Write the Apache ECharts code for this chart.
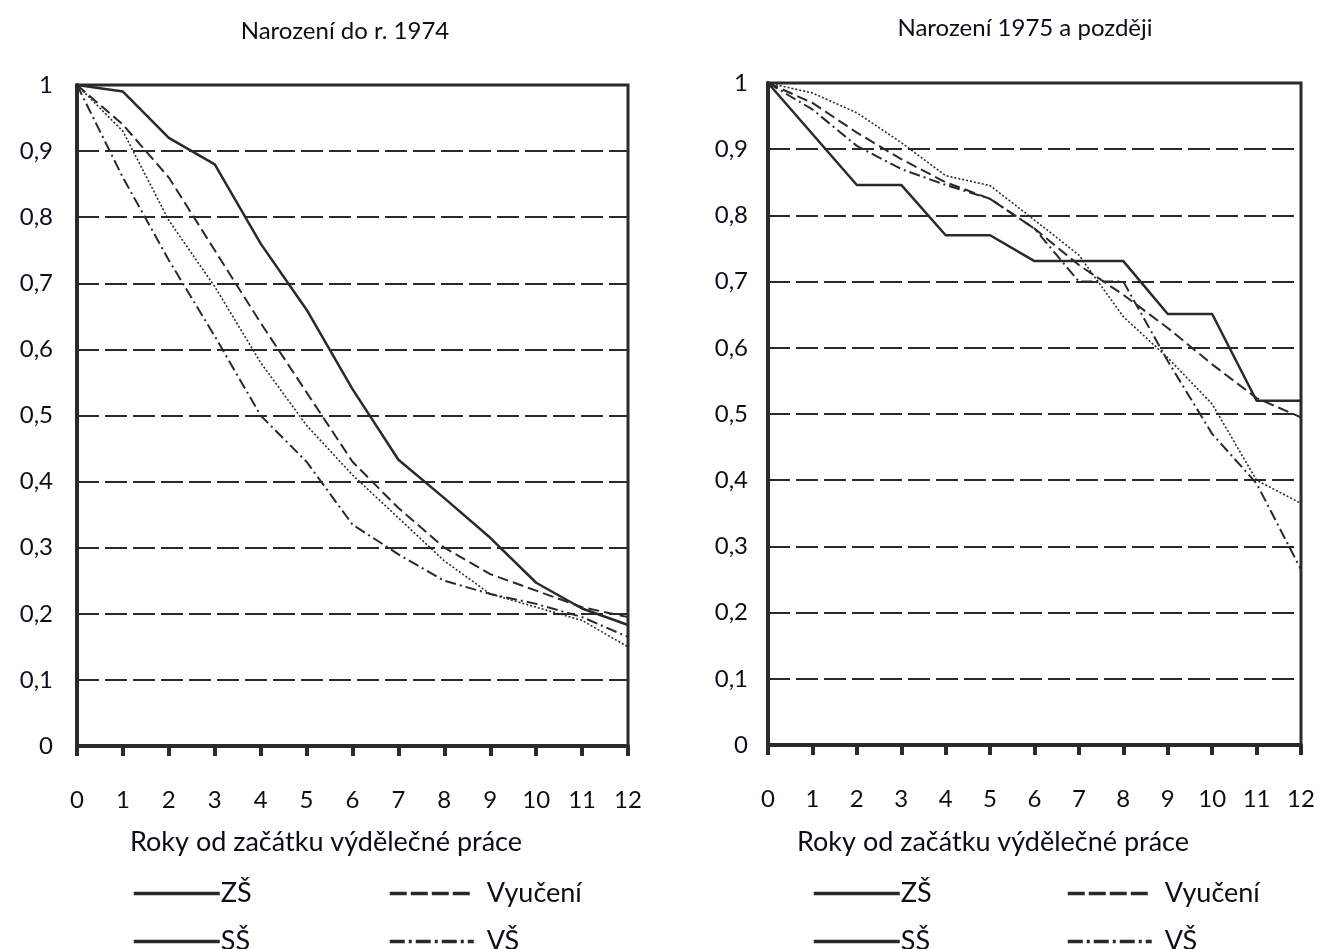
<!DOCTYPE html>
<html><head><meta charset="utf-8">
<script src="https://cdn.jsdelivr.net/npm/echarts@6/dist/echarts.min.js"></script>
<style>html,body{margin:0;padding:0;background:#fff}#c{width:1319px;height:949px}</style>
</head><body><div id="c"></div>
<script>
const years = [0,1,2,3,4,5,6,7,8,9,10,11,12];
const yTicks = ['0','0,1','0,2','0,3','0,4','0,5','0,6','0,7','0,8','0,9','1'];
const titles = ['Narození do r. 1974','Narození 1975 a později'];
const xName = 'Roky od začátku výdělečné práce';
const names = ['ZŠ','Vyučení','SŠ','VŠ'];
// Left: born before 1975
const zs1 = [1, 0.99, 0.92, 0.88, 0.76, 0.66, 0.54, 0.433, 0.375, 0.315, 0.247, 0.208, 0.183];
const vy1 = [1, 0.94, 0.86, 0.75, 0.64, 0.535, 0.43, 0.36, 0.30, 0.26, 0.235, 0.21, 0.195];
const ss1 = [1, 0.93, 0.795, 0.695, 0.58, 0.485, 0.41, 0.345, 0.28, 0.23, 0.21, 0.19, 0.15];
const vs1 = [1, 0.86, 0.735, 0.62, 0.50, 0.43, 0.335, 0.29, 0.25, 0.23, 0.215, 0.195, 0.165];
// Right: born 1975 and later
const zs2 = [1, 0.923, 0.846, 0.846, 0.77, 0.77, 0.731, 0.731, 0.731, 0.651, 0.651, 0.52, 0.52];
const vy2 = [1, 0.97, 0.925, 0.885, 0.85, 0.825, 0.78, 0.725, 0.68, 0.63, 0.575, 0.524, 0.495];
const ss2 = [1, 0.985, 0.955, 0.91, 0.86, 0.845, 0.793, 0.74, 0.647, 0.585, 0.515, 0.40, 0.365];
const vs2 = [1, 0.96, 0.905, 0.87, 0.846, 0.825, 0.78, 0.70, 0.70, 0.58, 0.47, 0.395, 0.265];

const INK = '#2a2a2a';
const TXT = '#0d0d1a';
const FONT = 'Lato, "Open Sans", sans-serif';
const styles = {
  'ZŠ': {color: INK, width: 2.5, type: 'solid'},
  'Vyučení': {color: INK, width: 2, type: [11, 5]},
  'SŠ': {color: INK, width: 1.6, type: [2, 2]},
  'VŠ': {color: INK, width: 2, type: [11, 4, 2, 4]}
};
const legendStyles = {
  'ZŠ': {color: INK, width: 3.5, type: 'solid'},
  'Vyučení': {color: INK, width: 3.5, type: [17, 4]},
  'SŠ': {color: INK, width: 3.5, type: 'solid'},
  'VŠ': {color: INK, width: 3.5, type: [15, 4, 3, 4]}
};
const grids = [
  {left: 77, right: 691, top: 85, bottom: 203},
  {left: 768, right: 18, top: 83, bottom: 204}
];
const data = [[zs1, vy1, ss1, vs1], [zs2, vy2, ss2, vs2]];

const xAxes = grids.map((g, i) => ({
  type: 'value', gridIndex: i, min: 0, max: 12, interval: 1,
  axisLine: {show: true, onZero: false, lineStyle: {color: INK, width: 4}},
  axisTick: {show: true, inside: false, length: 10, lineStyle: {color: INK, width: 4}},
  axisLabel: {margin: 42, fontSize: 24, color: TXT, fontFamily: FONT,
    formatter: v => String(years[v])},
  splitLine: {show: false}
}));
const yAxes = grids.map((g, i) => ({
  type: 'value', gridIndex: i, min: 0, max: 1, interval: 0.1,
  axisLine: {show: true, lineStyle: {color: INK, width: 4}},
  axisTick: {show: false},
  axisLabel: {margin: i === 0 ? 24 : 20, fontSize: 24, color: TXT, fontFamily: FONT,
    formatter: v => yTicks[Math.round(v * 10)]},
  splitLine: {show: true, lineStyle: {color: INK, width: 2, type: [22, 6]}}
}));
const series = [];
data.forEach((set, gi) => {
  set.forEach((arr, si) => {
    const nm = names[si];
    series.push({
      type: 'line', name: nm, xAxisIndex: gi, yAxisIndex: gi,
      data: years.map((x, k) => [x, arr[k]]),
      symbol: 'none', animation: false, silent: true, color: INK,
      lineStyle: styles[nm]
    });
  });
});

const legends = [];
const rows = [['ZŠ', 'Vyučení'], ['SŠ', 'VŠ']];
const rowTop = [880, 928];
const colLeft = [[132, 388], [812, 1066]];
colLeft.forEach(cols => {
  rows.forEach((row, r) => {
    row.forEach((nm, c) => {
      const ls = legendStyles[nm];
      legends.push({
        left: cols[c], top: rowTop[r], itemWidth: c === 0 ? 86 : 84, itemHeight: 18, itemGap: 4, padding: 0,
        selectedMode: false,
        textStyle: {fontSize: 27, color: TXT, fontFamily: FONT, padding: [0, 0, 0, c === 0 ? -4 : 8]},
        data: [{name: nm, lineStyle: ls, itemStyle: {opacity: 0, color: 'rgba(0,0,0,0)', borderWidth: 0}}],
        lineStyle: ls,
        itemStyle: {opacity: 0, color: 'rgba(0,0,0,0)', borderWidth: 0}
      });
    });
  });
});

const chart = echarts.init(document.getElementById('c'), null, {renderer: 'canvas'});
chart.setOption({
  backgroundColor: '#fff',
  animation: false,
  title: [
    {text: titles[0], left: 340, top: 14, textAlign: 'center',
     textStyle: {fontSize: 24, fontWeight: 'normal', color: TXT, fontFamily: FONT}},
    {text: titles[1], left: 1020, top: 11, textAlign: 'center',
     textStyle: {fontSize: 24, fontWeight: 'normal', color: TXT, fontFamily: FONT}}
  ],
  grid: grids.map(g => Object.assign({show: true, borderColor: INK, borderWidth: 3, backgroundColor: 'transparent', containLabel: false}, g)),
  xAxis: xAxes,
  yAxis: yAxes,
  legend: legends,
  graphic: [
    {type: 'text', left: 130, top: 829, style: {text: xName, fontSize: 27, fill: TXT, fontFamily: FONT}},
    {type: 'text', left: 797, top: 829, style: {text: xName, fontSize: 27, fill: TXT, fontFamily: FONT}}
  ],
  series: series
});
</script>
</body></html>
